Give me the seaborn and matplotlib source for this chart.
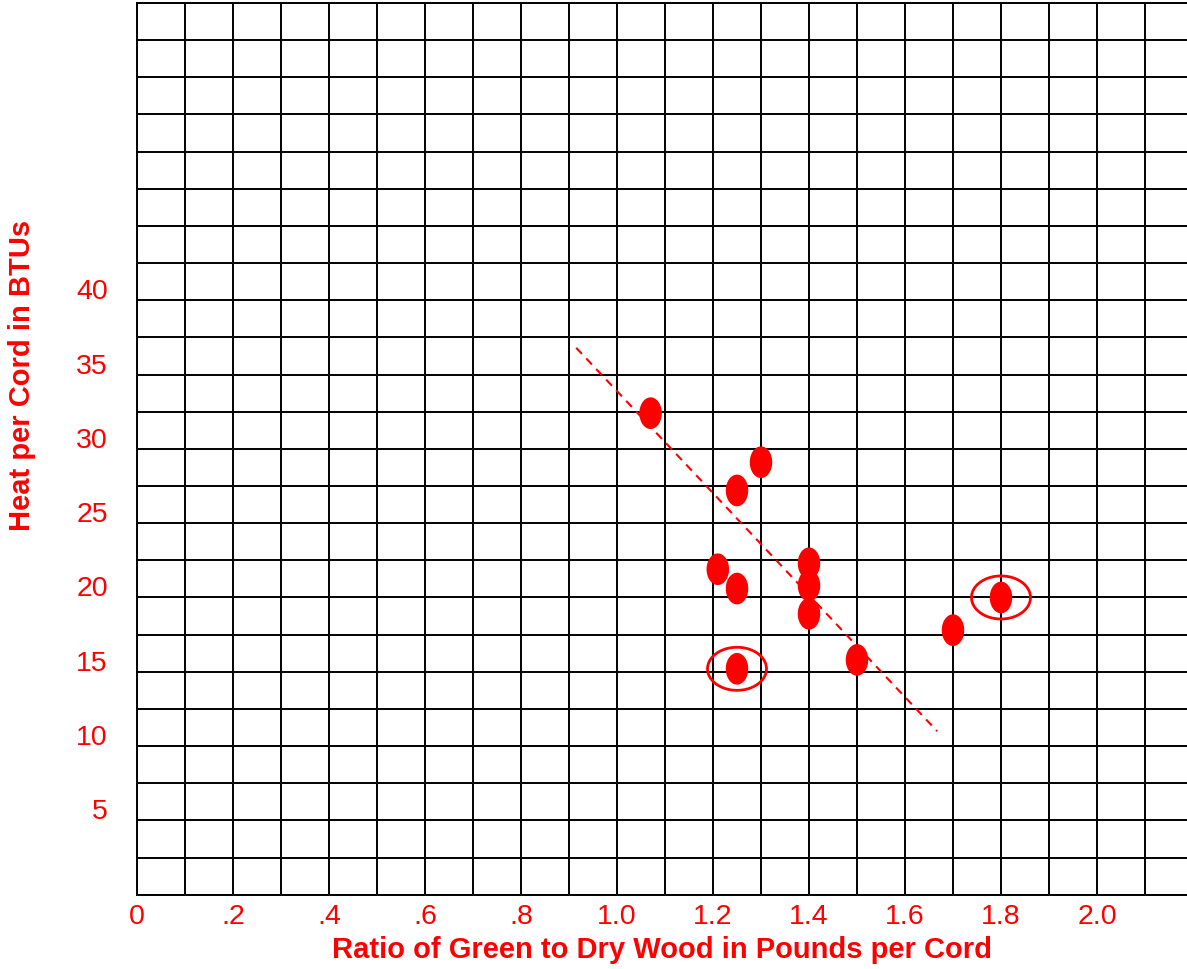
import numpy as np
import pandas as pd
import matplotlib
matplotlib.use("Agg")
import matplotlib.pyplot as plt
import matplotlib.transforms as mtransforms
from matplotlib.path import Path
import seaborn as sns

# ---- data ----
ratio = [1.07, 1.30, 1.25, 1.21, 1.25, 1.40, 1.40, 1.40, 1.50, 1.70, 1.80, 1.25]
heat = [32.4, 29.1, 27.2, 21.9, 20.6, 22.3, 20.8, 18.9, 15.8, 17.8, 20.0, 15.2]

highlight_ratio = [1.80, 1.25]
highlight_heat = [20.0, 15.2]

trend_ratio = [0.915, 1.667]
trend_heat = [36.8, 11.0]

x_tick_values = [0.0, 0.2, 0.4, 0.6, 0.8, 1.0, 1.2, 1.4, 1.6, 1.8, 2.0]
x_tick_labels = ["0", ".2", ".4", ".6", ".8", "1.0", "1.2", "1.4", "1.6", "1.8", "2.0"]
y_tick_values = [5, 10, 15, 20, 25, 30, 35, 40]
y_tick_labels = ["5", "10", "15", "20", "25", "30", "35", "40"]

x_label = "Ratio of Green to Dry Wood in Pounds per Cord"
y_label = "Heat per Cord in BTUs"

# ---- styling ----
sns.set_theme(style="white")
plt.rcParams["font.family"] = ["Liberation Sans", "DejaVu Sans"]
RED = "#FF0000"

W, H, DPI = 1187, 970, 100
fig = plt.figure(figsize=(W / DPI, H / DPI), dpi=DPI)
left, right, bottom, top = 137 / W, 1.0, (H - 895.7) / H, (H - 4) / H
ax = fig.add_axes([left, bottom, right - left, top - bottom])
ax.set_facecolor("white")

x_max = 2.1875
ax.set_xlim(0, x_max)
ax.set_ylim(0, 60)

# grid every 0.1 in x and 2.5 in y
grid_x = np.arange(0, 2.15, 0.1)
grid_y = np.arange(0, 60.1, 2.5)
x_lab_map = {round(v, 1): l for v, l in zip(x_tick_values, x_tick_labels)}
y_lab_map = {round(v, 1): l for v, l in zip(y_tick_values, y_tick_labels)}
ax.set_xticks(grid_x)
ax.set_xticklabels([x_lab_map.get(round(v, 1), "") for v in grid_x])
ax.set_yticks(grid_y)
ax.set_yticklabels([y_lab_map.get(round(v, 1), "") for v in grid_y])
ax.grid(True, color="black", linewidth=1.4)
ax.set_axisbelow(True)
ax.tick_params(axis="both", length=0, labelsize=20.5, labelcolor=RED)
ax.tick_params(axis="x", pad=6)
ax.tick_params(axis="y", pad=21)

# y tick labels sit a little above their grid lines in the reference
offset = mtransforms.ScaledTranslation(0, 12 / DPI, fig.dpi_scale_trans)
for lab in ax.get_yticklabels():
    lab.set_transform(lab.get_transform() + offset)

for side in ["left", "bottom", "top"]:
    ax.spines[side].set_color("black")
    ax.spines[side].set_linewidth(1.4)
    ax.spines[side].set_visible(True)
ax.spines["right"].set_visible(False)

# trend line
sns.lineplot(x=trend_ratio, y=trend_heat, ax=ax, color=RED, linewidth=1.5,
             linestyle=(0, (4, 3)), zorder=3)

# ellipse marker (taller than wide)
t = np.linspace(0, 2 * np.pi, 60)
filled_marker = Path(np.column_stack([0.71 * np.cos(t), np.sin(t)]), closed=True)
ring_marker = Path(np.column_stack([np.cos(t), 0.73 * np.sin(t)]), closed=True)

df = pd.DataFrame({"ratio": ratio, "heat": heat})
sns.scatterplot(data=df, x="ratio", y="heat", ax=ax, marker=filled_marker,
                s=520, color=RED, edgecolor="none", linewidth=0, zorder=4)

hl = pd.DataFrame({"ratio": highlight_ratio, "heat": highlight_heat})
sns.scatterplot(data=hl, x="ratio", y="heat", ax=ax, marker=ring_marker,
                s=1806, facecolor="none", edgecolor=RED, linewidth=2.0, zorder=5)

ax.set_xlabel(x_label, color=RED, fontsize=21, fontweight="bold")
ax.set_ylabel(y_label, color=RED, fontsize=21, fontweight="bold")
ax.xaxis.set_label_coords(0.5, -(950 - 895.7) / 891.7)
ax.xaxis.label.set_va("center")
ax.yaxis.set_label_coords((21.7 - 137) / (W - 137), (895.7 - 375) / 891.7)
ax.yaxis.label.set_va("center")

fig.savefig("out.png", dpi=DPI, facecolor="white")
